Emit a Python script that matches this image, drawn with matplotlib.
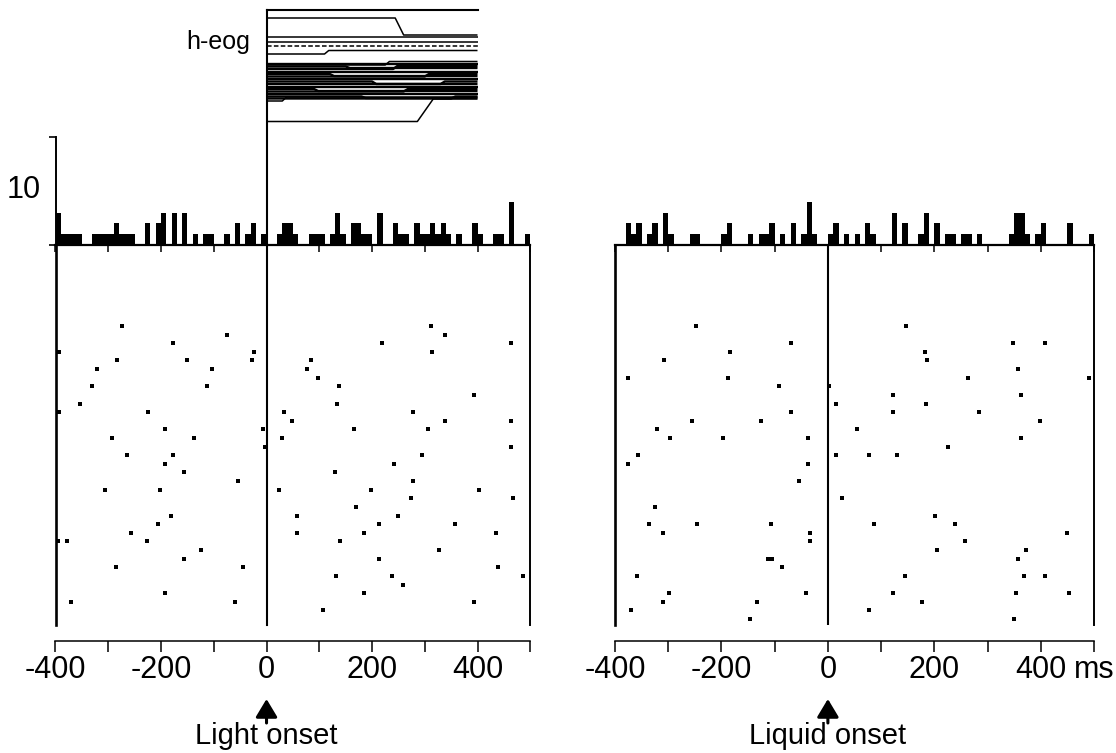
import numpy as np
import matplotlib.pyplot as plt
from matplotlib import font_manager
from matplotlib.transforms import blended_transform_factory
from matplotlib.lines import Line2D

plt.rcParams['axes.unicode_minus'] = False

# raster: trial row and spike time (ms), light-aligned panel
light_trial = [9, 9, 10, 10, 11, 11, 11, 12, 12, 12, 13, 13, 13, 13, 14, 14, 14, 15,
               16, 16, 16, 17, 18, 18, 19, 19, 19, 19, 20, 20, 20, 21, 21, 21, 21,
               22, 22, 22, 23, 23, 24, 24, 24, 25, 25, 26, 26, 27, 27,
               28, 28, 28, 28, 28, 29, 29, 30, 31, 31, 31, 32, 32, 32,
               33, 33, 33, 33, 34, 34, 34, 34, 35, 35, 36, 36, 37, 37, 37,
               38, 38, 38, 39, 40, 40, 41, 41, 41, 42]
light_time = [-273, 311, -75, 339, -177, 219, 463, -393, -23, 314, -284, -151, -27, 85,
              -321, -103, 77, 98, -330, -112, 137, 394, -354, 133, -393, -224, 33, 277,
              48, 339, 463, -193, -7, 165, 306, -292, -137, 29, -3, 463, -265, -177, 294,
              -193, 242, -156, 129, -55, 278, -306, -201, 24, 198, 402, 274, 467, 169,
              -181, 57, 250, -205, 213, 358, -257, 57, 185, 435, -395, -379, -226, 140,
              -124, 326, -156, 213, -286, -44, 438, 132, 237, 487, 258, -193, 185,
              -371, -60, 393, 108]

# raster: liquid-aligned panel
liquid_trial = [9, 9, 11, 11, 11, 12, 12, 13, 13, 14, 15, 15, 15, 15, 16, 16, 17, 17,
                18, 18, 19, 19, 19, 20, 20, 20, 21, 21, 22, 22, 22, 22, 23,
                24, 24, 24, 24, 25, 25, 27, 29, 30, 31, 32, 32, 32, 32, 32,
                33, 33, 33, 34, 34, 35, 35, 36, 36, 36, 37, 38, 38, 38, 38,
                40, 40, 40, 40, 40, 41, 41, 41, 42, 42, 43, 43]
liquid_time = [-248, 147, -69, 347, 408, -184, 183, -308, 187, 358, -375, -188, 263, 491,
               -92, 3, 123, 363, 16, 185, -69, 123, 283, -256, -125, 398, -321, 55,
               -297, -197, -38, 363, 226, -356, 16, 78, 130, -376, -38, -54, 26, -325,
               202, -337, -245, -106, 86, 238, -310, -34, 450, -34, 258, 205, 373,
               -113, -105, 358, -86, -358, 145, 369, 407, -298, -42, 122, 354, 453,
               -310, -134, 177, -369, 78, -147, 350]

# histograms: 10 ms bins (left edge) and counts
light_bins = [-400, -390, -380, -370, -360, -330, -320, -310, -300, -290, -280, -270,
              -260, -230, -210, -200, -180, -160, -140, -120, -110, -80, -60, -40, -30,
              -10, 20, 30, 40, 50, 80, 90, 100, 120, 130, 140, 160, 170, 180, 190, 210,
              240, 250, 260, 280, 290, 300, 310, 320, 330, 340, 360, 390, 400, 430, 440,
              460, 490]
light_counts = [3, 1, 1, 1, 1, 1, 1, 1, 1, 2, 1, 1, 1, 2, 2, 3, 3, 3, 1, 1, 1, 1, 2, 1,
                2, 1, 1, 2, 2, 1, 1, 1, 1, 1, 3, 1, 2, 2, 1, 1, 3, 2, 1, 1, 2, 1, 1, 2,
                1, 2, 1, 1, 2, 1, 1, 1, 4, 1]
liquid_bins = [-380, -370, -360, -340, -330, -310, -300, -260, -250, -200, -190, -150,
               -130, -120, -110, -90, -70, -50, -40, -30, 0, 10, 30, 50, 70, 80, 120,
               140, 170, 180, 200, 220, 230, 250, 260, 280, 340, 350, 360, 370, 390,
               400, 450, 490]
liquid_counts = [2, 1, 2, 1, 2, 3, 1, 1, 1, 1, 2, 1, 1, 1, 2, 1, 2, 1, 4, 1, 1, 2, 1, 1,
                 2, 1, 3, 2, 1, 3, 2, 1, 1, 1, 1, 1, 1, 3, 3, 1, 1, 2, 2, 1]

# h-eog traces: level before / after the shift, shift time (ms), shift duration (ms)
eog_before = [18, 36.5, 41.5, 46, 54, 65, 101, 121.5,
              64, 66.5, 69, 71.5, 74, 76.5, 79, 81.5, 84, 86.5, 89, 91.5, 94, 96.5, 98.5]
eog_after = [35, 36.5, 41.5, 46, 50.5, 61.5, 97, 99,
             64, 68, 66, 71.5, 76, 74, 79, 84, 81.5, 86.5, 91, 89, 94, 98, 96.5]
eog_shift = [244, 0, 0, 0, 110, 225, 30, 286,
             0, 150, 240, 0, 120, 300, 0, 200, 330, 0, 90, 260, 0, 180, 350]
eog_dur = [16, 1, 1, 1, 8, 8, 8, 30,
           1, 8, 8, 1, 8, 8, 1, 8, 8, 1, 8, 8, 1, 8, 8]

tick_major = [-400, -200, 0, 200, 400]
tick_minor = [-300, -100, 100, 300, 500]
tick_labels = ['-400', '-200', '0', '200', '400']

names = {f.name for f in font_manager.fontManager.ttflist}
if 'Liberation Sans Narrow' in names:
    num_font, num_size = 'Liberation Sans Narrow', 25
else:
    num_font, num_size = 'Liberation Sans', 22
plt.rcParams['font.family'] = 'Liberation Sans'

W, H = 1116, 753
fig = plt.figure(figsize=(W / 100, H / 100), dpi=100)


def px_axes(x0, y0, x1, y1):
    return fig.add_axes([x0 / W, 1 - y1 / H, (x1 - x0) / W, (y1 - y0) / H])


def panel(x0, x1, trial, time, bins, counts, yaxis):
    ras = px_axes(x0, 245, x1, 625)
    ras.set_xlim(-400, 500)
    ras.set_ylim(43.7, -0.4)
    ras.plot(time, trial, 's', ms=2.2, mew=0, color='k')
    ras.spines['top'].set_visible(False)
    ras.spines['left'].set_linewidth(1.9)
    ras.spines['right'].set_linewidth(1.4)
    ras.spines['bottom'].set_position(('outward', 11.5))
    ras.spines['bottom'].set_linewidth(1.1)
    ras.set_yticks([])
    ras.set_xticks(tick_major)
    ras.set_xticklabels(tick_labels, fontfamily=num_font, fontsize=num_size)
    ras.set_xticks(tick_minor, minor=True)
    ras.tick_params(axis='x', which='both', direction='out', length=8, width=1.1, pad=2)

    hist = px_axes(x0, 137, x1, 245)
    hist.bar(bins, counts, width=10, align='edge', color='k', lw=0)
    hist.set_xlim(-400, 500)
    hist.set_ylim(0, 10)
    hist.patch.set_alpha(0)
    for s in ['top', 'right']:
        hist.spines[s].set_visible(False)
    hist.spines['bottom'].set_linewidth(1.6)
    hist.set_xticks(range(-400, 501, 100))
    hist.set_xticklabels([])
    hist.tick_params(axis='x', direction='out', length=5, width=1.1)
    if yaxis:
        hist.spines['left'].set_linewidth(1.4)
        hist.set_yticks([0, 10])
        hist.set_yticklabels([])
        hist.tick_params(axis='y', direction='out', length=5, width=1.2)
    else:
        hist.spines['left'].set_visible(False)
        hist.set_yticks([])
    return ras, hist


ras_l, hist_l = panel(55.5, 530.3, light_trial, light_time, light_bins, light_counts, True)
ras_r, hist_r = panel(615, 1094, liquid_trial, liquid_time, liquid_bins, liquid_counts, False)

# onset lines
tr_l = blended_transform_factory(ras_l.transData, fig.transFigure)
fig.add_artist(Line2D([0, 0], [1 - 625 / H, 1 - 10 / H], transform=tr_l, color='k', lw=1.5))
ras_r.axvline(0, color='k', lw=1.5)

# h-eog inset
eog = px_axes(266.5, 10, 477.5, 128)
eog.set_xlim(0, 400)
eog.set_ylim(128, 10)
eog.patch.set_alpha(0)
for s in ['left', 'right', 'bottom']:
    eog.spines[s].set_visible(False)
eog.spines['top'].set_linewidth(1.5)
eog.set_xticks([])
eog.set_yticks([])
for i, (a, b, t, d) in enumerate(zip(eog_before, eog_after, eog_shift, eog_dur)):
    if a == b:
        xs, ys = [0, 400], [a, a]
    else:
        xs, ys = [0, t, t + d, 400], [a, a, b, b]
    lw = 1.7 if i >= 8 else 1.1
    ls = (0, (3, 1.5)) if a == 46 else '-'
    eog.plot(xs, ys, color='k', lw=lw, ls=ls, solid_capstyle='butt')

fig.text(250 / W, 1 - 42 / H, 'h-eog', ha='right', va='center', fontsize=18)
fig.text(41 / W, 1 - 190 / H, '10', ha='right', va='center',
         fontfamily=num_font, fontsize=num_size)

# ms unit after last label on the right
tr_r = blended_transform_factory(ras_r.transData, fig.transFigure)
fig.text(462, 1 - 669.5 / H, 'ms', transform=tr_r, ha='left', va='center',
         fontfamily=num_font, fontsize=num_size)

# onset arrows and captions
for ax, label in [(ras_l, 'Light onset'), (ras_r, 'Liquid onset')]:
    tr = blended_transform_factory(ax.transData, fig.transFigure)
    ax.annotate('', xy=(0, 1 - 699 / H), xytext=(0, 1 - 723 / H),
                xycoords=tr, textcoords=tr, annotation_clip=False,
                arrowprops=dict(arrowstyle='-|>,head_length=0.55,head_width=0.33',
                                mutation_scale=20, lw=2.2, color='k',
                                shrinkA=0, shrinkB=0))
    fig.text(0, 1 - 744 / H, label, transform=tr, ha='center', va='baseline',
             fontsize=21)

fig.savefig('out.png', dpi=100)
